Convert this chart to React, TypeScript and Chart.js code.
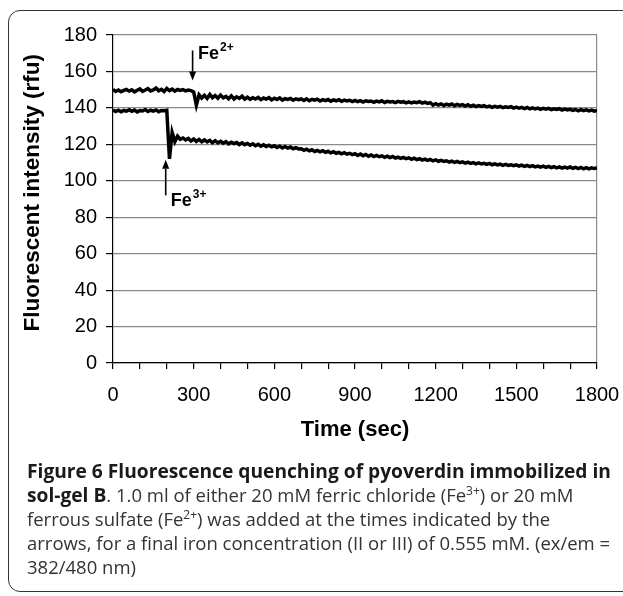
import React, { useEffect, useRef } from "react";
import { Chart, registerables } from "chart.js";

Chart.register(...registerables);

// Time axis (seconds), one reading every 10 s
const TIME_STEP = 10;
const TIME_MAX = 1800;

// Fe2+ trace (upper), readings every 10 s from 0 to 1800
const FE2_VALUES = [
  150.2, 149.0, 149.8, 148.9, 149.6, 150.1, 149.2, 149.9, 148.8, 149.7,
  150.4, 149.1, 149.8, 150.6, 149.3, 149.9, 150.9, 149.4, 150.2, 149.0,
  150.7, 149.5, 150.3, 149.2, 150.1, 149.6, 150.0, 149.3, 149.8, 149.5,
  148.8, 141.5, 147.2, 145.4, 146.9, 145.2, 147.4, 145.6, 146.8, 145.3,
  147.0, 145.5, 146.3, 145.0, 146.6, 144.9, 146.1, 145.2, 146.4, 144.8,
  145.9, 144.7, 145.6, 144.9, 145.8, 144.5, 145.4, 144.8, 145.6, 144.4,
  145.3, 144.6, 145.5, 144.3, 145.1, 144.7, 145.2, 144.2, 145.0, 144.5,
  144.9, 144.1, 145.0, 143.9, 144.7, 144.2, 144.8, 143.8, 144.5, 144.0,
  144.6, 143.7, 144.4, 143.9, 144.5, 143.6, 144.3, 143.8, 144.2, 143.5,
  144.1, 143.4, 144.0, 143.2, 143.9, 143.5, 143.8, 143.1, 143.7, 143.3,
  143.9, 143.0, 143.6, 143.2, 143.5, 142.9, 143.6, 143.1, 143.4, 142.8,
  143.3, 142.7, 143.2, 142.9, 143.4, 142.6, 143.1, 142.5, 142.9, 141.5,
  142.3, 141.6, 142.2, 141.3, 142.0, 141.5, 142.1, 141.2, 141.9, 141.4,
  141.8, 141.0, 141.7, 140.9, 141.5, 140.7, 141.3, 140.8, 141.2, 140.5,
  141.0, 140.3, 140.9, 140.4, 140.8, 140.1, 140.6, 140.2, 140.7, 139.9,
  140.4, 139.8, 140.3, 139.6, 140.2, 139.5, 140.0, 139.4, 139.9, 139.2,
  139.8, 139.3, 139.7, 139.0, 139.5, 139.1, 139.6, 138.8, 139.3, 138.9,
  139.2, 138.6, 139.1, 138.4, 139.0, 138.5, 138.9, 138.3, 138.8, 138.2,
  138.6,
];

// Fe3+ trace (lower), readings every 10 s from 0 to 1800
const FE3_VALUES = [
  138.9, 138.0, 138.7, 137.9, 138.6, 138.2, 139.0, 138.1, 138.8, 137.8,
  138.5, 138.3, 139.1, 138.0, 138.7, 138.2, 138.9, 137.9, 138.6, 138.4,
  138.7, 112.0, 126.5, 121.5, 124.5, 122.8, 123.5, 122.4, 123.2, 121.8,
  122.9, 121.6, 122.7, 121.4, 122.4, 121.3, 122.2, 120.9, 122.0, 120.8,
  121.7, 120.6, 121.5, 120.3, 121.2, 120.4, 121.0, 119.9, 120.8, 119.8,
  120.5, 119.5, 120.3, 119.2, 120.0, 119.0, 119.8, 118.8, 119.5, 118.6,
  119.2, 118.3, 119.0, 118.0, 118.8, 117.9, 118.5, 117.6, 118.2, 117.5,
  117.6, 116.7, 117.3, 116.4, 117.0, 116.1, 116.7, 115.9, 116.5, 115.6,
  116.2, 115.3, 115.9, 115.1, 115.6, 114.8, 115.4, 114.6, 115.1, 114.4,
  114.9, 113.9, 114.7, 113.7, 114.4, 113.5, 114.2, 113.3, 113.9, 113.2,
  113.7, 112.9, 113.5, 112.7, 113.3, 112.5, 113.0, 112.3, 112.8, 112.1,
  112.6, 111.8, 112.4, 111.6, 112.1, 111.4, 111.9, 111.2, 111.7, 110.9,
  111.5, 110.7, 111.2, 110.6, 111.0, 110.3, 110.8, 110.1, 110.6, 109.9,
  110.4, 109.7, 110.2, 109.5, 110.0, 109.3, 109.8, 109.2, 109.6, 109.0,
  109.5, 108.8, 109.3, 108.7, 109.1, 108.5, 109.0, 108.4, 108.8, 108.3,
  108.7, 108.1, 108.6, 107.9, 108.4, 107.8, 108.3, 107.6, 108.1, 107.5,
  108.0, 107.4, 107.9, 107.2, 107.8, 107.1, 107.6, 107.0, 107.5, 106.9,
  107.6, 106.8, 107.4, 106.7, 107.3, 106.6, 107.2, 106.5, 107.1, 106.7,
  107.0,
];

const Y_MIN = 0;
const Y_MAX = 180;
const Y_STEP = 20;
const X_MINOR_STEP = 100;
const X_LABEL_STEP = 300;

const X_TITLE = "Time (sec)";
const Y_TITLE = "  Fluorescent intensity (rfu)";

// Arrow annotations in data coordinates
const ARROW_TIMES = [296, 196];
const ARROW_FROM = [171.5, 92];
const ARROW_TO = [155, 111.5];
const ARROW_LABELS = ["Fe", "Fe"];
const ARROW_SUPS = ["2+", "3+"];
const LABEL_TIMES = [316, 215];
const LABEL_VALUES = [166.8, 86];

const FONT = "'Liberation Sans', Arial, sans-serif";

const arrowPlugin = {
  id: "arrows",
  afterDatasetsDraw(chart: any) {
    const ctx = chart.ctx;
    const xs = chart.scales.x;
    const ys = chart.scales.y;
    ctx.save();
    ctx.strokeStyle = "#000";
    ctx.fillStyle = "#000";
    ctx.lineWidth = 1.6;
    for (let i = 0; i < ARROW_TIMES.length; i++) {
      const x = xs.getPixelForValue(ARROW_TIMES[i]);
      const y0 = ys.getPixelForValue(ARROW_FROM[i]);
      const y1 = ys.getPixelForValue(ARROW_TO[i]);
      const dir = y1 > y0 ? 1 : -1;
      const headLen = 9;
      ctx.beginPath();
      ctx.moveTo(x, y0);
      ctx.lineTo(x, y1 - dir * headLen);
      ctx.stroke();
      ctx.beginPath();
      ctx.moveTo(x, y1);
      ctx.lineTo(x - 3.5, y1 - dir * headLen);
      ctx.lineTo(x + 3.5, y1 - dir * headLen);
      ctx.closePath();
      ctx.fill();

      const tx = xs.getPixelForValue(LABEL_TIMES[i]);
      const ty = ys.getPixelForValue(LABEL_VALUES[i]);
      ctx.textAlign = "left";
      ctx.textBaseline = "alphabetic";
      ctx.font = `bold 18px ${FONT}`;
      ctx.fillText(ARROW_LABELS[i], tx, ty);
      const w = ctx.measureText(ARROW_LABELS[i]).width;
      ctx.font = `bold 12px ${FONT}`;
      ctx.fillText(ARROW_SUPS[i], tx + w + 1, ty - 8);
    }
    ctx.restore();
  },
};

export default function App() {
  const canvasRef = useRef<HTMLCanvasElement | null>(null);

  useEffect(() => {
    const canvas = canvasRef.current;
    if (!canvas) return;
    const times: number[] = [];
    for (let t = 0; t <= TIME_MAX; t += TIME_STEP) times.push(t);

    const chart = new Chart(canvas, {
      type: "line",
      data: {
        datasets: [
          {
            label: "Fe2+",
            data: times.map((t, i) => ({ x: t, y: FE2_VALUES[i] })),
            borderColor: "#000",
            borderWidth: 3.5,
            pointRadius: 0,
            tension: 0,
            fill: false,
          },
          {
            label: "Fe3+",
            data: times.map((t, i) => ({ x: t, y: FE3_VALUES[i] })),
            borderColor: "#000",
            borderWidth: 3.5,
            pointRadius: 0,
            tension: 0,
            fill: false,
          },
        ],
      },
      options: {
        animation: false,
        responsive: false,
        maintainAspectRatio: false,
        layout: { padding: { top: 35, right: 26, left: 0, bottom: 0 } },
        plugins: { legend: { display: false }, tooltip: { enabled: false } },
        scales: {
          x: {
            type: "linear",
            min: 0,
            max: TIME_MAX,
            afterFit: (s: any) => {
              s.height = 97;
              s.paddingLeft = 0;
              s.paddingRight = 0;
            },
            ticks: {
              stepSize: X_MINOR_STEP,
              autoSkip: false,
              maxRotation: 0,
              padding: 14,
              color: "#000",
              font: { family: FONT, size: 20 },
              callback: (v: any) => (Number(v) % X_LABEL_STEP === 0 ? String(v) : ""),
            },
            grid: {
              drawOnChartArea: true,
              color: (c: any) =>
                c.tick && c.tick.value === TIME_MAX ? "#8a8a8a" : "rgba(0,0,0,0)",
              tickColor: "#000",
              tickLength: 6,
              lineWidth: 1.2,
            },
            border: { color: "#000", width: 1.2 },
            title: {
              display: true,
              text: X_TITLE,
              color: "#000",
              font: { family: FONT, size: 22, weight: "bold" },
              padding: { top: 0, bottom: 17 },
            },
          },
          y: {
            min: Y_MIN,
            max: Y_MAX,
            afterFit: (s: any) => {
              s.width = 113;
            },
            ticks: {
              stepSize: Y_STEP,
              padding: 9,
              color: "#000",
              font: { family: FONT, size: 20 },
            },
            grid: {
              color: "#8a8a8a",
              tickColor: "#000",
              tickLength: 7,
              lineWidth: 1.2,
            },
            border: { color: "#000", width: 1.2 },
            title: {
              display: true,
              text: Y_TITLE,
              color: "#000",
              font: { family: FONT, size: 22.5, weight: "bold" },
              padding: { top: 19, bottom: 0 },
            },
          },
        },
      },
      plugins: [arrowPlugin],
    } as any);
    return () => chart.destroy();
  }, []);

  const supStyle: React.CSSProperties = {
    fontSize: "12px",
    verticalAlign: "super",
    lineHeight: 0,
  };
  const boldStyle: React.CSSProperties = { color: "#1a1a1a", fontSize: "19.2px" };

  return (
    <div
      style={{
        position: "absolute",
        left: 0,
        top: 0,
        width: 623,
        height: 596,
        overflow: "hidden",
        background: "#fff",
      }}
    >
      <div
        style={{
          position: "absolute",
          left: 8,
          top: 10,
          width: 660,
          height: 582,
          border: "1.5px solid #333",
          borderRadius: 12,
          boxSizing: "border-box",
        }}
      />
      <canvas
        ref={canvasRef}
        width={623}
        height={460}
        style={{ position: "absolute", left: 0, top: 0, width: 623, height: 460 }}
      />
      <div
        style={{
          position: "absolute",
          left: 27,
          top: 459,
          fontFamily: "'Open Sans', sans-serif",
          fontSize: "18.5px",
          lineHeight: "24px",
          color: "#333",
          whiteSpace: "nowrap",
        }}
      >
        <b style={boldStyle}>Figure 6 Fluorescence quenching of pyoverdin immobilized in</b>
        <br />
        <b style={boldStyle}>sol-gel B</b>. 1.0 ml of either 20 mM ferric chloride (Fe
        <span style={supStyle}>3+</span>) or 20 mM
        <br />
        ferrous sulfate (Fe<span style={supStyle}>2+</span>) was added at the times indicated by the
        <br />
        arrows, for a final iron concentration (II or III) of 0.555 mM. (ex/em =
        <br />
        382/480 nm)
      </div>
    </div>
  );
}
